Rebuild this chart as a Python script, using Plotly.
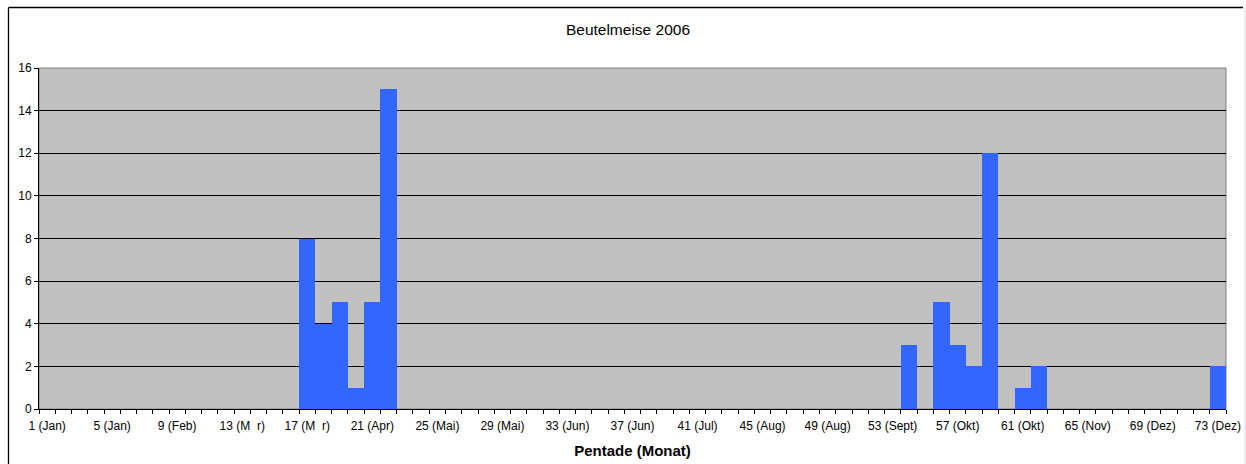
import plotly.graph_objects as go

pentads = list(range(1, 74))
counts = [0] * 73
observed = {17: 8, 18: 4, 19: 5, 20: 1, 21: 5, 22: 15,
            54: 3, 56: 5, 57: 3, 58: 2, 59: 12, 61: 1, 62: 2, 73: 2}
for p, v in observed.items():
    counts[p - 1] = v

tick_positions = [1, 5, 9, 13, 17, 21, 25, 29, 33, 37, 41, 45, 49, 53, 57, 61, 65, 69, 73]
tick_labels = ["1 (Jan)", "5 (Jan)", "9 (Feb)", "13 (M\u00a0\u00a0r)", "17 (M\u00a0\u00a0r)", "21 (Apr)",
               "25 (Mai)", "29 (Mai)", "33 (Jun)", "37 (Jun)", "41 (Jul)", "45 (Aug)",
               "49 (Aug)", "53 (Sept)", "57 (Okt)", "61 (Okt)", "65 (Nov)", "69 (Dez)", "73 (Dez)"]

FONT = "Arial, Liberation Sans, sans-serif"
W, H = 1246, 464
ML, MR, MT, MB = 39, 20, 68, 55
PW, PH = W - ML - MR, H - MT - MB

def px_x(px):
    return (px - ML) / PW

def px_y(py):
    return (H - MB - py) / PH

fig = go.Figure(go.Bar(x=pentads, y=counts, marker=dict(color="#3366FF", line=dict(width=0)),
                       width=1.0, hoverinfo="skip"))

fig.update_layout(
    width=W, height=H,
    margin=dict(l=ML, r=MR, t=MT, b=MB, autoexpand=False),
    paper_bgcolor="white",
    plot_bgcolor="#C0C0C0",
    bargap=0,
    showlegend=False,
    font=dict(family=FONT, size=12, color="black"),
    title=dict(text="Beutelmeise 2006", x=0.504, xanchor="center", y=1 - 30 / H, yanchor="middle",
               font=dict(family=FONT, size=15.5, color="black")),
    xaxis=dict(
        range=[0.5, 73.5], tickmode="array", tickvals=tick_positions, ticktext=tick_labels,
        ticks="outside", ticklen=0, tickcolor="black", showgrid=False, zeroline=False,
        showline=True, linecolor="black", linewidth=1, ticklabelstandoff=6, automargin=False,
        tickfont=dict(family=FONT, size=12, color="black"),
        minor=dict(tick0=0.5, dtick=1, ticks="outside", ticklen=4, tickcolor="black", tickwidth=1, showgrid=False),
        title=dict(text="<b>Pentade (Monat)</b>", font=dict(family=FONT, size=15, color="black"), standoff=13),
    ),
    yaxis=dict(
        range=[0, 16], dtick=2, ticks="outside", ticklen=4, tickcolor="black",
        showgrid=True, gridcolor="black", gridwidth=1, zeroline=False, automargin=False,
        showline=True, linecolor="black", linewidth=1,
        tickfont=dict(family=FONT, size=12, color="black"),
    ),
    shapes=[
        dict(type="rect", xref="paper", yref="paper", x0=0, x1=1, y0=0, y1=1,
             line=dict(color="#808080", width=1), layer="below"),
        dict(type="line", xref="paper", yref="paper", x0=px_x(8.5), x1=px_x(8.5),
             y0=px_y(470), y1=px_y(7.5), line=dict(color="black", width=1.3)),
        dict(type="line", xref="paper", yref="paper", x0=px_x(8.5), x1=px_x(1243),
             y0=px_y(7.5), y1=px_y(7.5), line=dict(color="black", width=1.3)),
        dict(type="line", xref="paper", yref="paper", x0=px_x(1245), x1=px_x(1245),
             y0=px_y(470), y1=px_y(8), line=dict(color="#D8D8D8", width=1)),
    ],
)

fig.write_html("out.html", config={"displayModeBar": False},
               post_script="document.body.style.margin='0';document.body.style.padding='0';")
